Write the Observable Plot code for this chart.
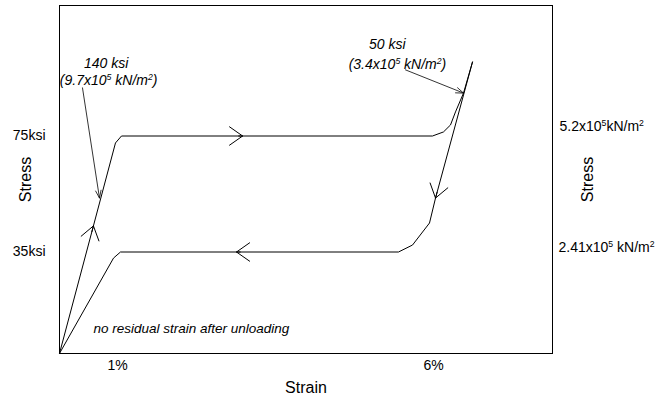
<!DOCTYPE html>
<html>
<head>
<meta charset="utf-8">
<script src="https://cdn.jsdelivr.net/npm/d3@7"></script>
<script src="https://cdn.jsdelivr.net/npm/@observablehq/plot@0.6"></script>
<style>
  html, body { margin: 0; padding: 0; background: white; }
  #chart svg { display: block; }
</style>
</head>
<body>
<div id="chart"></div>
<script>
// Loading branch (strain %, stress ksi)
const loadingStrain = [0.082, 0.968, 1.063, 5.984, 6.158, 6.269, 6.348, 6.475, 6.617];
const loadingStress = [0, 72.6, 75, 75, 76.4, 78.8, 83.3, 89.8, 100.5];
// Unloading branch
const unloadingStrain = [6.617, 6.032, 5.937, 5.668, 5.446, 1.047, 0.937, 0.082];
const unloadingStress = [100.5, 53.6, 45, 37.4, 35, 35, 32.9, 0];

// Direction chevrons on the path (tail -> tip)
const dirTailStrain = [0.408, 2.19, 6.248, 3.67];
const dirTailStress = [26.7, 75, 70.9, 35];
const dirTipStrain = [0.619, 2.98, 6.032, 2.883];
const dirTipStress = [44, 75, 53.6, 35];

// Annotation leaders (text -> slope)
const leaderTailStrain = [0.446, 5.557];
const leaderTailStress = [91.6, 97.8];
const leaderTipStrain = [0.715, 6.475];
const leaderTipStress = [53.6, 89.8];

// Annotation texts
const noteText = ["140 ksi", "(9.7x10^5 kN/m^2)", "50 ksi", "(3.4x10^5 kN/m^2)"];
const noteStrain = [0.82, 0.86, 5.27, 5.43];
const noteStress = [100.0, 94.2, 106.4, 99.6];
const residualNote = "no residual strain after unloading";
const residualStrain = 0.62;
const residualStress = 8.6;

// Ticks
const xTicks = [1, 6];
const xTickLabels = ["1%", "6%"];
const yTicks = [35, 75];
const yTickLabels = ["35ksi", "75ksi"];
const rightTickLabels = ["2.41x10^5 kN/m^2", "5.2x10^5kN/m^2"];

const loading = loadingStrain.map((x, i) => ({x, y: loadingStress[i]}));
const unloading = unloadingStrain.map((x, i) => ({x, y: unloadingStress[i]}));
const dirs = dirTailStrain.map((x1, i) => ({x1, y1: dirTailStress[i], x2: dirTipStrain[i], y2: dirTipStress[i]}));
const leaders = leaderTailStrain.map((x1, i) => ({x1, y1: leaderTailStress[i], x2: leaderTipStrain[i], y2: leaderTipStress[i]}));
const notes = noteText.map((t, i) => ({t, x: noteStrain[i], y: noteStress[i]}));

const font = "Liberation Sans, Arial, Helvetica, sans-serif";

const chart = Plot.plot({
  width: 657,
  height: 397,
  marginLeft: 59,
  marginRight: 105,
  marginTop: 5,
  marginBottom: 44,
  style: {fontFamily: font, fontSize: "14px", background: "white", color: "black", overflow: "visible"},
  x: {domain: [0.0823, 7.883], ticks: xTicks, tickFormat: d => xTickLabels[xTicks.indexOf(d)], tickSize: 0, tickPadding: 7, label: null},
  y: {domain: [0, 120], ticks: yTicks, tickFormat: d => yTickLabels[yTicks.indexOf(d)], tickSize: 0, tickPadding: 14, label: null},
  marks: [
    Plot.frame({stroke: "black", strokeWidth: 1}),
    Plot.line(loading, {x: "x", y: "y", stroke: "black", strokeWidth: 1}),
    Plot.line(unloading, {x: "x", y: "y", stroke: "black", strokeWidth: 1}),
    Plot.arrow(dirs, {x1: "x1", y1: "y1", x2: "x2", y2: "y2", stroke: "black", strokeWidth: 1, headLength: 24, headAngle: 70, insetStart: 46}),
    Plot.arrow(leaders, {x1: "x1", y1: "y1", x2: "x2", y2: "y2", stroke: "black", strokeWidth: 0.8, headLength: 15, headAngle: 40}),
    Plot.text(notes, {x: "x", y: "y", text: "t", fontSize: 14, fontStyle: "italic", textAnchor: "middle", fill: "black"}),
    Plot.text([residualNote], {x: () => residualStrain, y: () => residualStress, text: d => d, fontSize: 13.5, fontStyle: "italic", textAnchor: "start", fill: "black"}),
    Plot.text([rightTickLabels[1]], {y: () => yTicks[1], text: d => d, frameAnchor: "right", textAnchor: "start", lineAnchor: "middle", dx: 7, dy: -9, fontSize: 14, fill: "black"}),
    Plot.text([rightTickLabels[0]], {y: () => yTicks[0], text: d => d, frameAnchor: "right", textAnchor: "start", lineAnchor: "middle", dx: 6, dy: -4, fontSize: 14, fill: "black"}),
    Plot.text(["Stress"], {frameAnchor: "left", text: d => d, rotate: -90, textAnchor: "middle", lineAnchor: "middle", dx: -34, fontSize: 16, fill: "black"}),
    Plot.text(["Stress"], {frameAnchor: "right", text: d => d, rotate: -90, textAnchor: "middle", lineAnchor: "middle", dx: 35, fontSize: 16, fill: "black"}),
    Plot.text(["Strain"], {frameAnchor: "bottom", text: d => d, textAnchor: "middle", lineAnchor: "middle", dy: 34, fontSize: 16, fill: "black"})
  ]
});

// Render "^n" as superscripts
chart.querySelectorAll("text").forEach(t => {
  const s = t.textContent;
  if (!s.includes("^")) return;
  t.textContent = "";
  s.split(/\^(\d)/).forEach((p, i) => {
    if (!p) return;
    const ts = document.createElementNS("http://www.w3.org/2000/svg", "tspan");
    ts.textContent = p;
    if (i % 2 === 1) {
      ts.setAttribute("baseline-shift", "super");
      ts.setAttribute("font-size", "62%");
    }
    t.appendChild(ts);
  });
});

document.getElementById("chart").appendChild(chart);
</script>
</body>
</html>
